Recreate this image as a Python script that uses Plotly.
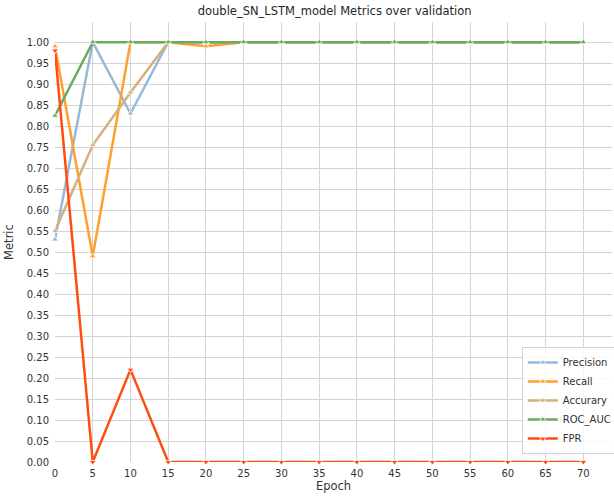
import plotly.graph_objects as go

epochs = [0, 5, 10, 15, 20, 25, 30, 35, 40, 45, 50, 55, 60, 65, 70]
precision = [0.53, 1.0, 0.83, 1.0, 1.0, 1.0, 1.0, 1.0, 1.0, 1.0, 1.0, 1.0, 1.0, 1.0, 1.0]
recall = [0.99, 0.49, 1.0, 1.0, 0.99, 1.0, 1.0, 1.0, 1.0, 1.0, 1.0, 1.0, 1.0, 1.0, 1.0]
accuracy = [0.55, 0.755, 0.88, 1.0, 1.0, 1.0, 1.0, 1.0, 1.0, 1.0, 1.0, 1.0, 1.0, 1.0, 1.0]
roc_auc = [0.825, 1.0, 1.0, 1.0, 1.0, 1.0, 1.0, 1.0, 1.0, 1.0, 1.0, 1.0, 1.0, 1.0, 1.0]
fpr = [0.98, 0.0, 0.22, 0.0, 0.0, 0.0, 0.0, 0.0, 0.0, 0.0, 0.0, 0.0, 0.0, 0.0, 0.0]

y_ticks = [round(i * 0.05, 2) for i in range(21)]
x_ticks = list(range(0, 71, 5))

series = [
    ("Precision", precision, "#97b9d8", "triangle-up"),
    ("Recall", recall, "#ffa02e", "triangle-up"),
    ("Accurary", accuracy, "#d4b07e", "triangle-up"),
    ("ROC_AUC", roc_auc, "#6aab5e", "triangle-up"),
    ("FPR", fpr, "#ff4d12", "triangle-down"),
]

fig = go.Figure()
for name, vals, color, sym in series:
    fig.add_trace(go.Scatter(
        x=epochs, y=vals, name=name, mode="lines+markers",
        line=dict(color=color, width=2.5),
        marker=dict(symbol=sym, size=6, color=color, line=dict(color="white", width=0.8)),
        cliponaxis=False,
    ))

fig.update_layout(
    width=614, height=501,
    margin=dict(l=55, r=2, t=22, b=39, autoexpand=False),
    paper_bgcolor="white", plot_bgcolor="white",
    font=dict(family="DejaVu Sans", size=10, color="#333333"),
    title=dict(text="double_SN_LSTM_model Metrics over validation", x=0.545, xanchor="center",
               yref="container", y=0.978, yanchor="middle",
               font=dict(size=11.5, color="#262626")),
    xaxis=dict(title=dict(text="Epoch", font=dict(size=11.5), standoff=2), range=[0, 73.8],
               tickvals=x_ticks, showgrid=True, gridcolor="#d4d4d4", gridwidth=1.2,
               zeroline=False, showline=False, ticks="outside", ticklen=2,
               tickcolor="rgba(0,0,0,0)", automargin=False),
    yaxis=dict(title=dict(text="Metric", font=dict(size=11.5), standoff=10), range=[0, 1.048],
               tickvals=y_ticks, tickformat=".2f", showgrid=True, gridcolor="#d4d4d4",
               gridwidth=1.2, zeroline=False, showline=False, ticks="outside", ticklen=3,
               tickcolor="rgba(0,0,0,0)", automargin=False),
    legend=dict(x=0.838, y=0.018, xanchor="left", yanchor="bottom",
                bgcolor="rgba(255,255,255,0.8)", bordercolor="#d4d4d4", borderwidth=1,
                font=dict(size=10), tracegroupgap=0, itemwidth=30),
)

fig.write_html("out.html", config={"displayModeBar": False},
               post_script="document.body.style.margin='0';document.body.style.overflow='hidden';")
